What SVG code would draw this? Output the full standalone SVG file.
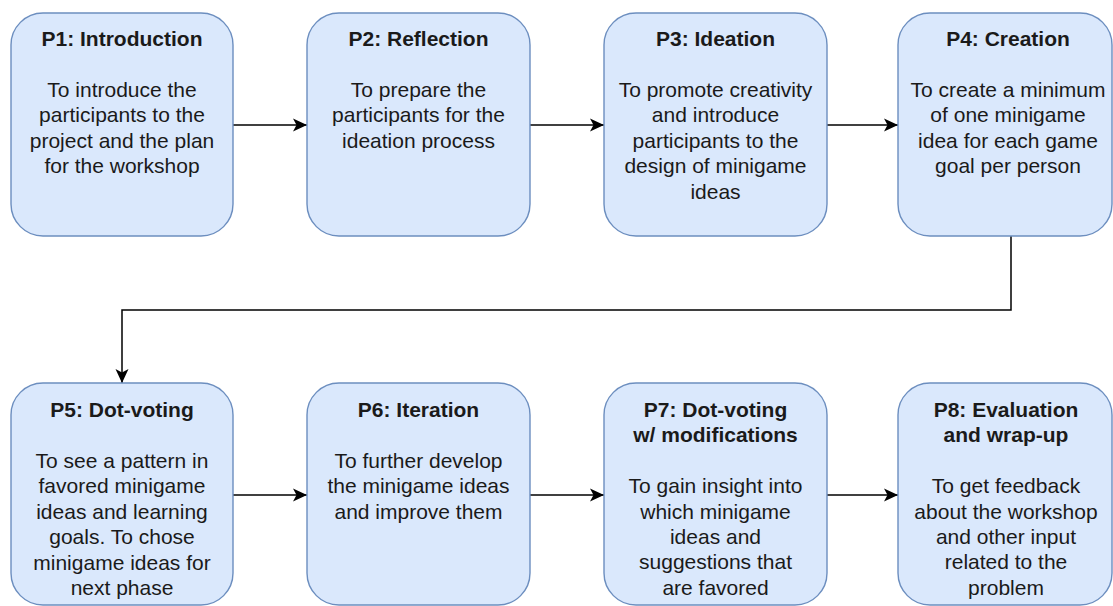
<svg xmlns="http://www.w3.org/2000/svg" width="1113" height="606" viewBox="0 0 1113 606">
<style>
.box{fill:#dae8fc;stroke:#6c8ebf;stroke-width:1.4}
.t{font-family:"Liberation Sans",Arial,Helvetica,sans-serif;font-size:21px;fill:#1a1a1a;text-anchor:middle}
.b{font-weight:bold}
.edge{fill:none;stroke:#000;stroke-width:1.5}
</style>
<defs>
<marker id="arr" markerUnits="userSpaceOnUse" markerWidth="16" markerHeight="14" refX="14" refY="7" orient="auto">
<path d="M0,0.5 L14,7 L0,13.5 L3.5,7 Z" fill="#000"/>
</marker>
</defs>
<rect width="1113" height="606" fill="#fff"/>
<g id="connectors">
<line class="edge" x1="233" y1="125" x2="307" y2="125" marker-end="url(#arr)"/>
<line class="edge" x1="530" y1="125" x2="604" y2="125" marker-end="url(#arr)"/>
<line class="edge" x1="827" y1="125" x2="898" y2="125" marker-end="url(#arr)"/>
<path class="edge" d="M1011,236 V310 H122 V383" marker-end="url(#arr)"/>
<line class="edge" x1="233" y1="495" x2="307" y2="495" marker-end="url(#arr)"/>
<line class="edge" x1="530" y1="495" x2="604" y2="495" marker-end="url(#arr)"/>
<line class="edge" x1="827" y1="495" x2="898" y2="495" marker-end="url(#arr)"/>
</g>
<g id="p1">
<rect class="box" x="11" y="13" width="222" height="223" rx="32"/>
<text class="t b" x="122" y="46">P1: Introduction</text>
<text class="t" x="122" y="97">To introduce the</text>
<text class="t" x="122" y="122.4">participants to the</text>
<text class="t" x="122" y="147.8">project and the plan</text>
<text class="t" x="122" y="173.2">for the workshop</text>
</g>
<g id="p2">
<rect class="box" x="307" y="13" width="223" height="223" rx="32"/>
<text class="t b" x="418.5" y="46">P2: Reflection</text>
<text class="t" x="418.5" y="97">To prepare the</text>
<text class="t" x="418.5" y="122.4">participants for the</text>
<text class="t" x="418.5" y="147.8">ideation process</text>
</g>
<g id="p3">
<rect class="box" x="604" y="13" width="223" height="223" rx="32"/>
<text class="t b" x="715.5" y="46">P3: Ideation</text>
<text class="t" x="715.5" y="97">To promote creativity</text>
<text class="t" x="715.5" y="122.4">and introduce</text>
<text class="t" x="715.5" y="147.8">participants to the</text>
<text class="t" x="715.5" y="173.2">design of minigame</text>
<text class="t" x="715.5" y="198.6">ideas</text>
</g>
<g id="p4">
<rect class="box" x="898" y="13" width="214" height="223" rx="32"/>
<text class="t b" x="1008" y="46">P4: Creation</text>
<text class="t" x="1008" y="97">To create a minimum</text>
<text class="t" x="1008" y="122.4">of one minigame</text>
<text class="t" x="1008" y="147.8">idea for each game</text>
<text class="t" x="1008" y="173.2">goal per person</text>
</g>
<g id="p5">
<rect class="box" x="11" y="383" width="222" height="222" rx="32"/>
<text class="t b" x="122" y="417">P5: Dot-voting</text>
<text class="t" x="122" y="468">To see a pattern in</text>
<text class="t" x="122" y="493.4">favored minigame</text>
<text class="t" x="122" y="518.8">ideas and learning</text>
<text class="t" x="122" y="544.2">goals. To chose</text>
<text class="t" x="122" y="569.6">minigame ideas for</text>
<text class="t" x="122" y="595">next phase</text>
</g>
<g id="p6">
<rect class="box" x="307" y="383" width="223" height="222" rx="32"/>
<text class="t b" x="418.5" y="417">P6: Iteration</text>
<text class="t" x="418.5" y="468">To further develop</text>
<text class="t" x="418.5" y="493.4">the minigame ideas</text>
<text class="t" x="418.5" y="518.8">and improve them</text>
</g>
<g id="p7">
<rect class="box" x="604" y="383" width="223" height="222" rx="32"/>
<text class="t b" x="715.5" y="417">P7: Dot-voting</text>
<text class="t b" x="715.5" y="442.4">w/ modifications</text>
<text class="t" x="715.5" y="493.2">To gain insight into</text>
<text class="t" x="715.5" y="518.6">which minigame</text>
<text class="t" x="715.5" y="544">ideas and</text>
<text class="t" x="715.5" y="569.4">suggestions that</text>
<text class="t" x="715.5" y="594.8">are favored</text>
</g>
<g id="p8">
<rect class="box" x="898" y="383" width="214" height="222" rx="32"/>
<text class="t b" x="1006" y="417">P8: Evaluation</text>
<text class="t b" x="1006" y="442.4">and wrap-up</text>
<text class="t" x="1006" y="493.2">To get feedback</text>
<text class="t" x="1006" y="518.6">about the workshop</text>
<text class="t" x="1006" y="544">and other input</text>
<text class="t" x="1006" y="569.4">related to the</text>
<text class="t" x="1006" y="594.8">problem</text>
</g>
</svg>
